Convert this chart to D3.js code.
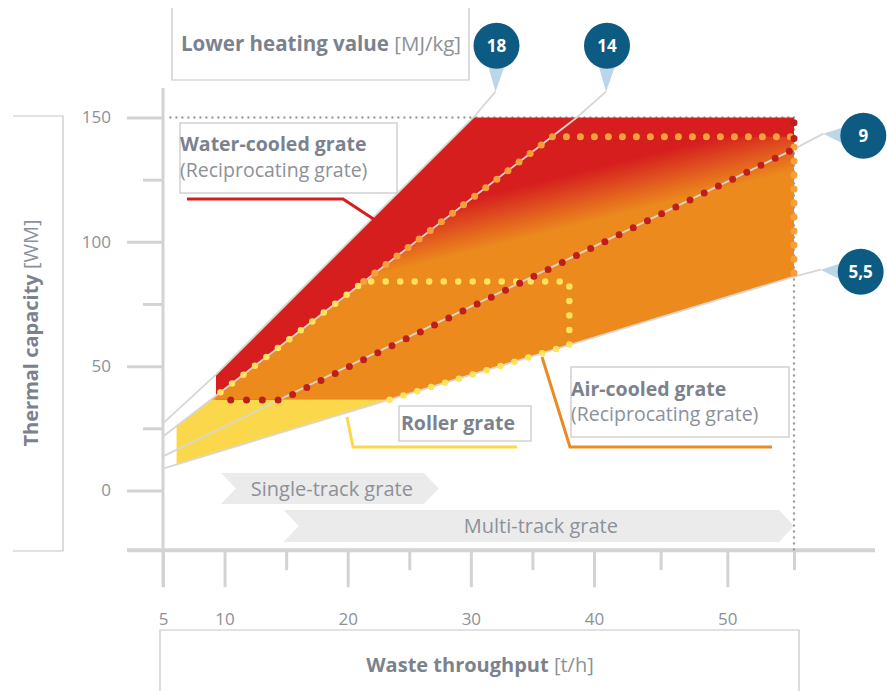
<!DOCTYPE html>
<html><head><meta charset="utf-8">
<script src="https://cdn.jsdelivr.net/npm/d3@7"></script>
<style>
html,body{margin:0;padding:0;background:#fff;}
svg{display:block;font-family:"Open Sans",sans-serif;}
</style></head><body>
<svg id="chart" width="887" height="691"></svg>
<script>
// Axis ticks
const xMajorTicks = [5, 10, 20, 30, 40, 50];
const xMinorTicks = [15, 25, 35, 45, 55];
const yMajorTicks = [0, 50, 100, 150];
const yMinorTicks = [25, 75, 125];

// Lines of constant lower heating value [MJ/kg]; points are [throughput t/h, capacity MW]
const heatingValueLabels = ["18", "14", "9", "5,5"];
const line18 = [[5, 27], [9.3, 46.6], [30.2, 150], [32.0, 160.4]];
const line14 = [[5, 21.7], [38.6, 150], [40.9, 160.4]];
const line9 = [[5, 13.7], [55, 137.3], [57.2, 143.5]];
const line55 = [[5, 8.8], [55, 86], [57.0, 88.8]];

// Grate operating ranges
const waterCooled = [[9.3, 36.5], [9.3, 46.6], [30.2, 150], [55, 150], [55, 137.3], [14.6, 36.5]];
const airCooled = [[8.9, 36.5], [36.6, 142.3], [55, 142.3], [55, 86], [23.4, 36.5]];
const rollerGrate = [[6.1, 10.5], [6.1, 25.9], [8.9, 36.5], [23.4, 36.5]];

// Dotted outlines
const waterCooledEdge = [[10.5, 36.4], [14.6, 36.4], [55, 137.3], [55, 150]];
const airCooledUpperEdge = [[21.3, 84], [36.6, 142.3], [55, 142.3], [55, 86]];
const airCooledLowerEdge = [[23.4, 36.5], [38, 58.5], [38, 84], [21.3, 84], [8.9, 36.5]];

// Throughput ranges of the track layouts [t/h]
const trackNames = ["Single-track grate", "Multi-track grate"];
const trackRanges = [[9.7, 27.4], [14.8, 55]];

const maxCapacity = 150;
const maxThroughput = 55;
const axisFloor = -24;

const C = {
  red: "#d61e1f", orange: "#ec8a1d", yellow: "#fbd84b",
  redDot: "#bf1f1b", orangeDot: "#f5a03a", yellowDot: "#fee360",
  axis: "#d3d3d3", frame: "#c6c6c6", text: "#7b828e", textLight: "#8c9199",
  marker: "#0d5b83", pointer: "#bcd6e8", track: "#ebebeb"
};

const svg = d3.select("#chart");
const x = d3.scaleLinear().domain([5, 40, 55]).range([163, 594, 794]);
const y = d3.scaleLinear().domain([0, 150]).range([490.5, 117.5]);
const line = d3.line().x(d => x(d[0])).y(d => y(d[1]));
const area = pts => line(pts) + "Z";

// gradient of the air-cooled range (red at high capacity, orange below)
const defs = svg.append("defs");
const grad = defs.append("linearGradient").attr("id", "airGrad")
  .attr("gradientUnits", "userSpaceOnUse")
  .attr("x1", 600).attr("y1", 160).attr("x2", 620).attr("y2", 240);
grad.append("stop").attr("offset", 0.08).attr("stop-color", C.red);
grad.append("stop").attr("offset", 0.7).attr("stop-color", C.orange);

// frames around the axis titles
svg.append("path").attr("fill", "none").attr("stroke", C.frame).attr("stroke-width", 1.2)
  .attr("d", "M172,8V80H469V8");
svg.append("path").attr("fill", "none").attr("stroke", C.frame).attr("stroke-width", 1.2)
  .attr("d", "M13,116H63V551H13");
svg.append("path").attr("fill", "none").attr("stroke", C.frame).attr("stroke-width", 1.2)
  .attr("d", "M160,700V630H799V700");

// axis titles
const t1 = svg.append("text").attr("x", 181).attr("y", 51).attr("font-size", 20.5).attr("fill", C.text);
t1.append("tspan").attr("font-weight", 700).text("Lower heating value");
t1.append("tspan").attr("fill", C.textLight).text(" [MJ/kg]");
const t2 = svg.append("text").attr("transform", "translate(38,333) rotate(-90)")
  .attr("text-anchor", "middle").attr("font-size", 20).attr("fill", C.text);
t2.append("tspan").attr("font-weight", 700).text("Thermal capacity");
t2.append("tspan").attr("fill", C.textLight).text(" [WM]");
const t3 = svg.append("text").attr("x", 480).attr("y", 672).attr("text-anchor", "middle")
  .attr("font-size", 20).attr("fill", C.text);
t3.append("tspan").attr("font-weight", 700).text("Waste throughput");
t3.append("tspan").attr("fill", C.textLight).text(" [t/h]");

// axes
svg.append("line").attr("x1", 127).attr("x2", 875).attr("y1", y(axisFloor)).attr("y2", y(axisFloor))
  .attr("stroke", C.axis).attr("stroke-width", 4);
svg.append("line").attr("x1", x(5)).attr("x2", x(5)).attr("y1", 88).attr("y2", y(axisFloor) + 37)
  .attr("stroke", C.axis).attr("stroke-width", 3);

function styleAxis(g) {
  g.select(".domain").remove();
  g.selectAll(".tick line").attr("stroke", C.axis).attr("stroke-width", 3);
  g.selectAll(".tick text").attr("fill", C.textLight).attr("font-size", 17)
    .attr("font-family", "Open Sans, sans-serif");
}
svg.append("g").attr("transform", `translate(${x(5)},0)`)
  .call(d3.axisLeft(y).tickValues(yMajorTicks).tickSize(36).tickPadding(16)).call(styleAxis);
svg.append("g").attr("transform", `translate(${x(5)},0)`)
  .call(d3.axisLeft(y).tickValues(yMinorTicks).tickSize(20).tickFormat("")).call(styleAxis);
svg.append("g").attr("transform", `translate(0,${y(axisFloor)})`)
  .call(d3.axisBottom(x).tickValues(xMajorTicks).tickSize(37).tickPadding(26).tickFormat(d3.format("d")))
  .call(styleAxis);
svg.append("g").attr("transform", `translate(0,${y(axisFloor)})`)
  .call(d3.axisBottom(x).tickValues(xMinorTicks).tickSize(20).tickFormat("")).call(styleAxis);

// track range chevrons
const trackRows = [[473, 504], [510, 542]];
trackRanges.forEach((r, i) => {
  const x0 = x(r[0]), x1 = x(r[1]), [top, bot] = trackRows[i], mid = (top + bot) / 2, d = 15;
  svg.append("path").attr("fill", C.track)
    .attr("d", `M${x0},${top}H${x1 - d}L${x1},${mid}L${x1 - d},${bot}H${x0}L${x0 + d},${mid}Z`);
  svg.append("text").attr("x", (x0 + x1) / 2 + 2).attr("y", mid + 7).attr("text-anchor", "middle")
    .attr("font-size", 20).attr("fill", C.textLight).text(trackNames[i]);
});

// reference dotted lines at the capacity and throughput limits
const grayDots = d3.line().x(d => x(d[0])).y(d => y(d[1]));
[[[5.6, maxCapacity], [maxThroughput, maxCapacity]], [[maxThroughput, maxCapacity], [maxThroughput, axisFloor]]]
  .forEach(seg => {
    svg.append("path").attr("d", grayDots(seg))
      .attr("fill", "none").attr("stroke", "#9c9c9c").attr("stroke-width", 2.4)
      .attr("stroke-linecap", "round").attr("stroke-dasharray", "0 6");
  });

// grate ranges
svg.append("path").attr("d", area(rollerGrate)).attr("fill", C.yellow);
svg.append("path").attr("d", area(waterCooled)).attr("fill", C.red);
svg.append("path").attr("d", area(airCooled)).attr("fill", "url(#airGrad)");

// heating value lines
[line18, line14, line9, line55].forEach(l => {
  svg.append("path").attr("d", line(l)).attr("fill", "none")
    .attr("stroke", "#d9d6d2").attr("stroke-width", 1.8);
});

// dotted outlines
function dotted(pts, color, gap, w) {
  svg.append("path").attr("d", line(pts)).attr("fill", "none").attr("stroke", color)
    .attr("stroke-width", w).attr("stroke-linecap", "round").attr("stroke-linejoin", "round")
    .attr("stroke-dasharray", `0 ${gap}`);
}
dotted(airCooledLowerEdge, C.yellowDot, 14.5, 6.5);
dotted(airCooledUpperEdge, C.orangeDot, 14, 7);
dotted(waterCooledEdge, C.redDot, 15.8, 7);

// heating value markers
[line18, line14, line9, line55].forEach((l, i) => {
  const tip = l[l.length - 1], tx = x(tip[0]), ty = y(tip[1]);
  const vertical = i < 2;
  const cx = vertical ? tx + 1 : tx + 40, cy = vertical ? ty - 46 : ty + 2, r = 23;
  const ptr = vertical
    ? `M${tx},${ty}L${cx - 9},${cy + 18}L${cx + 9},${cy + 18}Z`
    : `M${tx},${ty}L${cx - 18},${cy - 9}L${cx - 18},${cy + 9}Z`;
  svg.append("path").attr("d", ptr).attr("fill", C.pointer);
  svg.append("circle").attr("cx", cx).attr("cy", cy).attr("r", r).attr("fill", C.marker);
  svg.append("text").attr("x", cx).attr("y", cy + 6).attr("text-anchor", "middle")
    .attr("font-size", 17).attr("font-weight", 700).attr("fill", "#fff").text(heatingValueLabels[i]);
});

// labels of the grate types
function legendBox(bx, by, bw, bh, title, sub, tx, ty1, ty2) {
  svg.append("rect").attr("x", bx).attr("y", by).attr("width", bw).attr("height", bh)
    .attr("fill", "#fff").attr("stroke", C.frame).attr("stroke-width", 1.2);
  svg.append("text").attr("x", tx).attr("y", ty1).attr("font-size", 19.5).attr("font-weight", 700)
    .attr("fill", C.text).text(title);
  if (sub) svg.append("text").attr("x", tx).attr("y", ty2).attr("font-size", 19.5)
    .attr("fill", C.textLight).text(sub);
}
function leader(pts, color) {
  svg.append("polyline").attr("points", pts.map(p => p.join(",")).join(" "))
    .attr("fill", "none").attr("stroke", color).attr("stroke-width", 3);
}
leader([[187, 199], [343, 199], [378, 222]], C.red);
leader([[347, 417], [353, 447], [517, 447]], C.yellow);
leader([[542, 357], [570, 447], [772, 447]], "#e98a23");
legendBox(180, 123, 217, 70, "Water-cooled grate", "(Reciprocating grate)", 180, 151, 177);
legendBox(399, 406, 132, 35, "Roller grate", null, 401, 430);
legendBox(571, 367, 218, 70, "Air-cooled grate", "(Reciprocating grate)", 571, 396, 421);
</script>
</body></html>
